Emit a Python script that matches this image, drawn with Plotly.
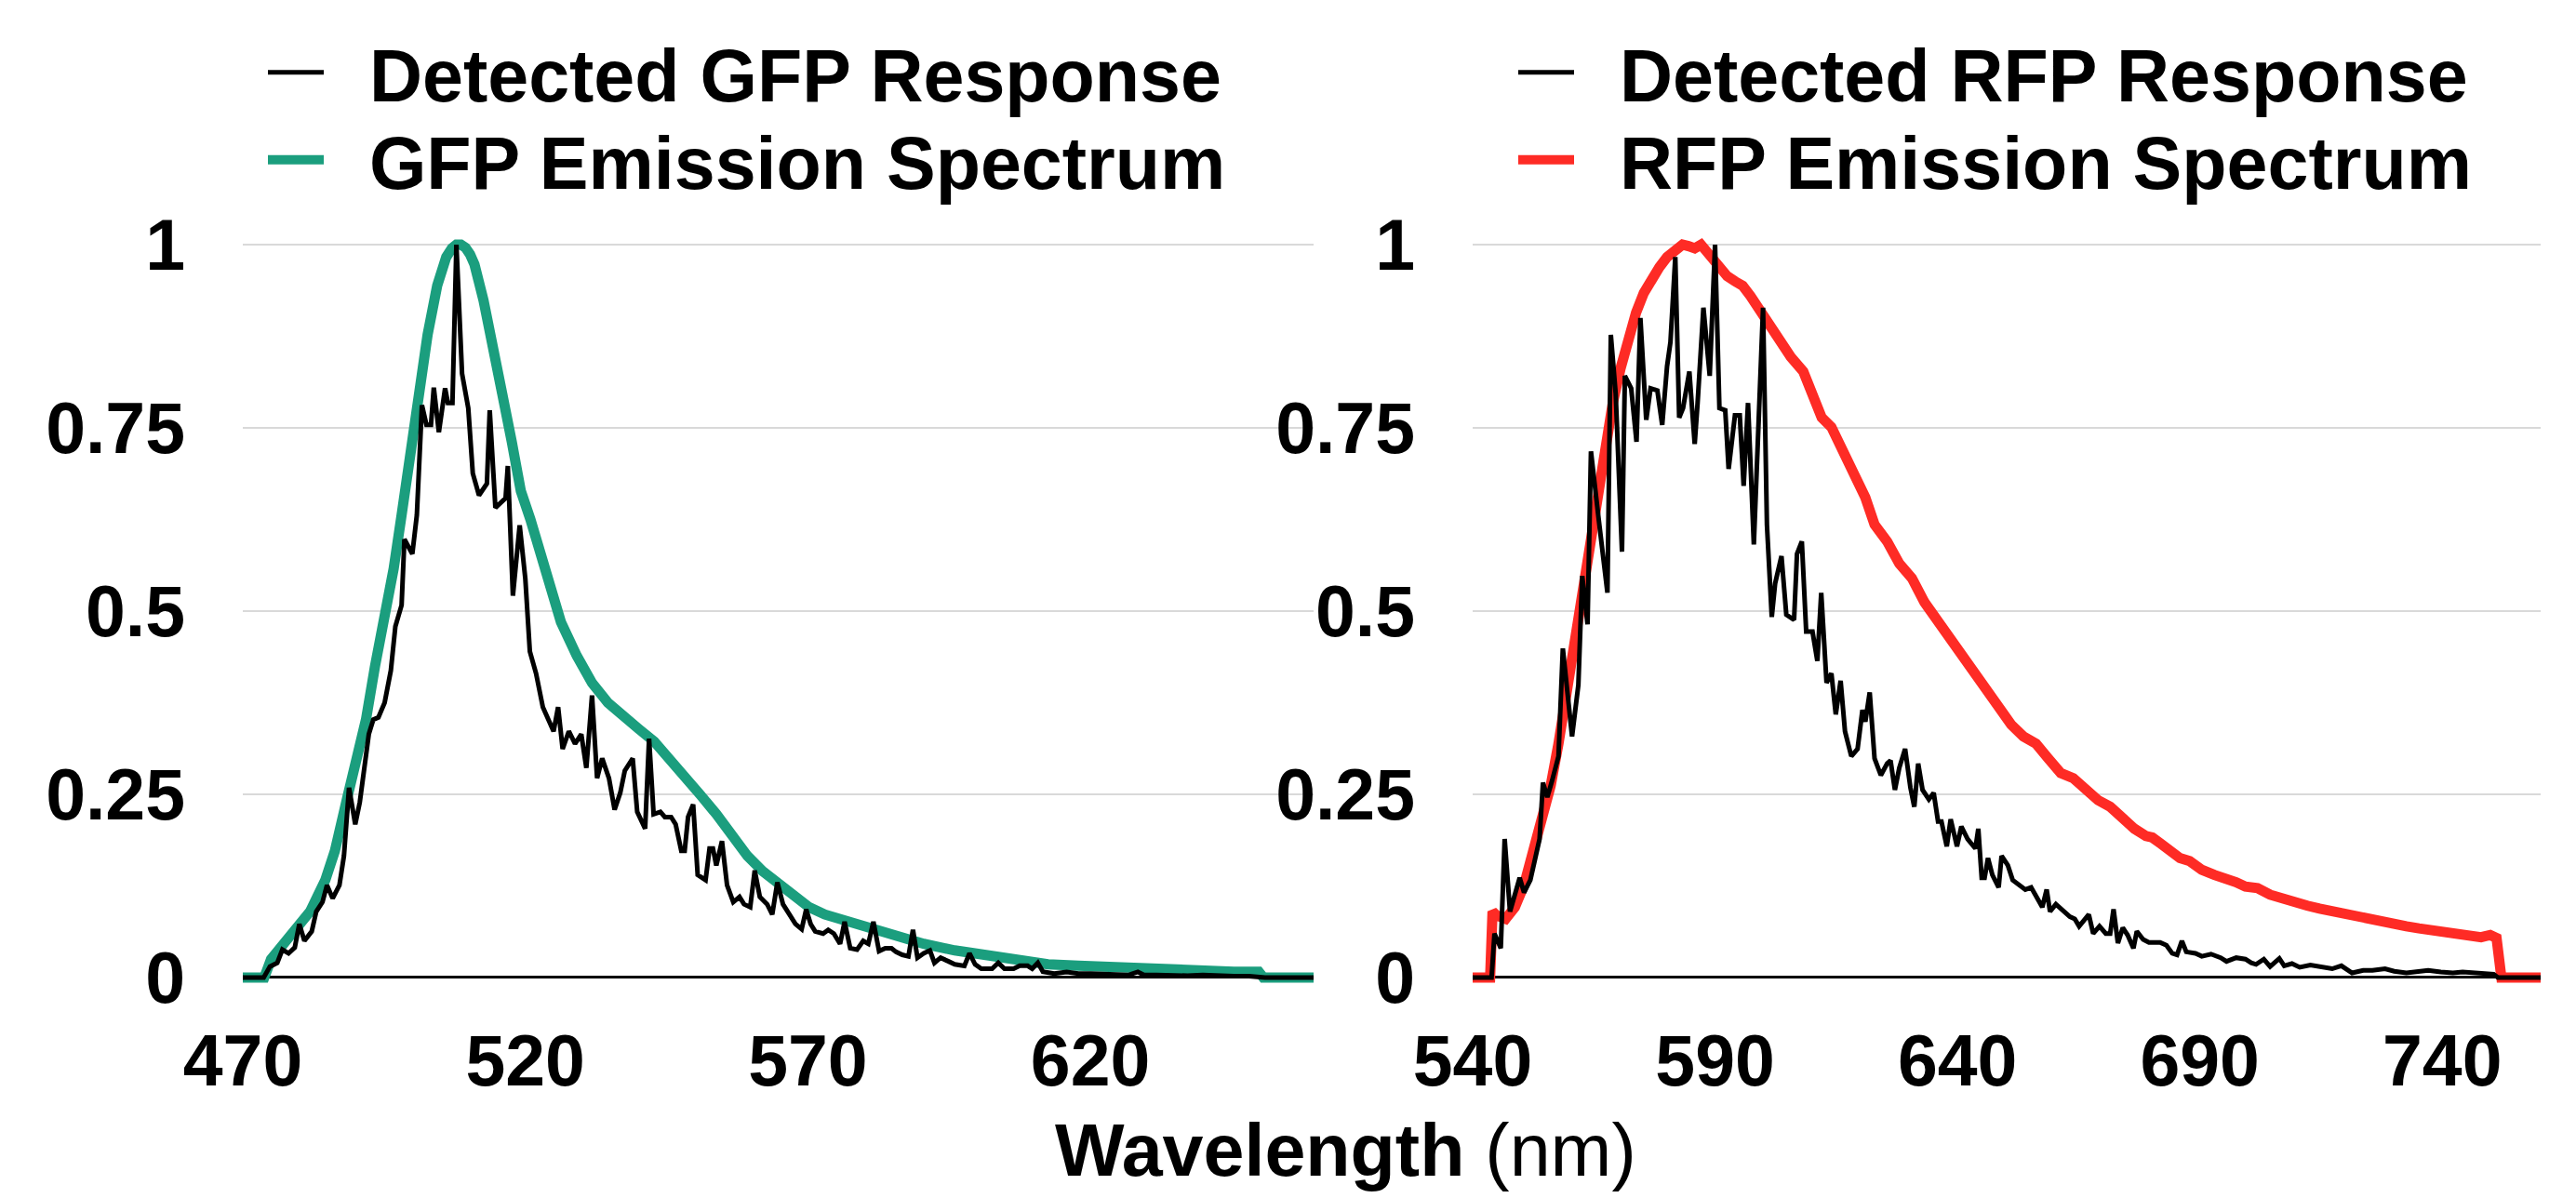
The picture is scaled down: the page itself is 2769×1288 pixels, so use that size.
import plotly.graph_objects as go

# ---------------- data ----------------
gfp_em_x = [470, 473.8, 475.0, 477.0, 479.2, 481.9, 484.6, 486.3, 488.5, 490.1, 491.8, 493.4, 495.1,
            496.7, 498.1, 499.5, 501.1, 502.7, 504.4, 506.0, 507.0, 507.8, 508.6, 509.4, 510.2, 511.0,
            512.6, 514.3, 515.9, 517.6, 519.2, 520.9, 522.5, 524.2, 526.3, 529.1, 531.8, 534.6, 537.3,
            540.1, 542.8, 545.5, 548.3, 551.0, 553.8, 556.5, 559.3, 562.0, 564.7, 567.5, 570.2, 573.0,
            575.7, 578.5, 581.2, 583.9, 586.7, 590.5, 596.0, 601.5, 606.9, 612.5, 617.9, 623.4, 628.9,
            634.4, 639.9, 645.4, 649.8, 650.6, 659.5]
gfp_em_y = [0, 0, 0.025, 0.043, 0.063, 0.090, 0.133, 0.173, 0.246, 0.296, 0.352, 0.425, 0.492,
            0.558, 0.631, 0.711, 0.797, 0.877, 0.944, 0.983, 0.995, 1.0, 1.0, 0.996, 0.987, 0.973,
            0.924, 0.864, 0.797, 0.731, 0.664, 0.625, 0.585, 0.545, 0.485, 0.439, 0.402, 0.375, 0.355,
            0.339, 0.322, 0.299, 0.274, 0.249, 0.223, 0.193, 0.166, 0.145, 0.128, 0.111, 0.096, 0.086,
            0.080, 0.072, 0.065, 0.060, 0.053, 0.046, 0.037, 0.030, 0.024, 0.018, 0.016, 0.014, 0.012,
            0.011, 0.010, 0.008, 0.008, 0, 0]

gfp_det_x = [470, 473.7, 474.8, 476.1, 477.0, 478.1, 479.2, 480.0, 480.9, 482.2, 483.0, 484.1, 484.9,
             485.9, 487.1, 487.9, 488.8, 489.9, 490.7, 491.5, 492.3, 493.1, 494.0, 495.1, 496.2, 497.0,
             498.1, 498.6, 500.0, 500.8, 501.7, 502.5, 503.3, 503.8, 504.7, 505.8, 506.3, 507.1, 507.8,
             508.8, 509.9, 510.7, 511.8, 513.2, 513.7, 514.7, 516.5, 516.9, 517.8, 519.0, 520.0, 520.8,
             521.9, 523.1, 524.2, 525.0, 525.8, 526.6, 527.7, 528.8, 529.9, 530.8, 531.8, 532.7, 533.6,
             534.8, 535.8, 536.8, 537.6, 539.0, 539.8, 541.2, 541.9, 542.7, 543.9, 544.7, 545.8, 546.6,
             547.6, 548.2, 548.8, 549.7, 550.5, 551.9, 552.6, 553.2, 553.8, 554.8, 555.7, 556.8, 557.9,
             558.7, 559.8, 560.6, 561.5, 562.8, 563.7, 564.6, 565.6, 566.7, 567.8, 568.9, 569.7, 570.5,
             571.3, 572.7, 573.6, 574.6, 575.7, 576.5, 577.5, 578.7, 579.8, 580.7, 581.6, 582.6, 583.7,
             584.8, 585.6, 586.7, 587.8, 588.6, 589.4, 590.5, 591.6, 592.4, 593.5, 594.9, 596.0, 597.7,
             598.6, 599.6, 600.7, 602.6, 603.7, 604.8, 606.4, 607.5, 608.9, 609.7, 610.7, 611.6, 613.6,
             615.8, 617.9, 620.1, 622.3, 624.5, 626.7, 628.4, 629.5, 631.7, 634.4, 637.2, 639.9, 642.6,
             645.4, 648.1, 650.3, 650.9, 659.5]
gfp_det_y = [0, 0, 0.015, 0.020, 0.038, 0.033, 0.041, 0.073, 0.050, 0.063, 0.090, 0.103, 0.126,
             0.108, 0.126, 0.166, 0.259, 0.209, 0.239, 0.292, 0.332, 0.352, 0.355, 0.375, 0.419, 0.479,
             0.508, 0.598, 0.578, 0.631, 0.781, 0.754, 0.754, 0.805, 0.744, 0.804, 0.784, 0.784, 1.0,
             0.824, 0.777, 0.688, 0.658, 0.674, 0.774, 0.641, 0.654, 0.698, 0.521, 0.617, 0.544, 0.445,
             0.415, 0.369, 0.349, 0.336, 0.369, 0.312, 0.336, 0.319, 0.332, 0.286, 0.385, 0.272, 0.299,
             0.272, 0.229, 0.252, 0.282, 0.299, 0.226, 0.203, 0.326, 0.223, 0.226, 0.219, 0.219, 0.209,
             0.173, 0.173, 0.219, 0.236, 0.140, 0.133, 0.176, 0.176, 0.153, 0.186, 0.126, 0.103, 0.110,
             0.100, 0.096, 0.146, 0.110, 0.100, 0.086, 0.130, 0.100, 0.086, 0.073, 0.066, 0.093, 0.073,
             0.063, 0.060, 0.065, 0.060, 0.046, 0.076, 0.040, 0.038, 0.050, 0.046, 0.076, 0.036, 0.040,
             0.040, 0.035, 0.031, 0.029, 0.065, 0.027, 0.033, 0.037, 0.020, 0.027, 0.022, 0.018, 0.016,
             0.033, 0.018, 0.012, 0.012, 0.020, 0.012, 0.012, 0.016, 0.016, 0.012, 0.020, 0.008, 0.0055,
             0.0076, 0.0055, 0.0055, 0.0046, 0.0046, 0.0034, 0.0076, 0.0034, 0.0034, 0.0025, 0.0025, 0.0034, 0.002,
             0.002, 0.002, 0.001, 0, 0]

rfp_em_x = [540, 543.6, 544.1, 544.9, 546.8, 548.7, 550.6, 552.2, 554.1, 556.1, 557.7, 559.3, 560.9,
            562.5, 564.1, 565.7, 567.3, 568.9, 570.5, 572.1, 573.7, 575.3, 576.9, 578.5, 580.1, 582.0,
            583.3, 584.5, 585.8, 587.1, 588.4, 589.6, 590.9, 592.5, 594.1, 595.7, 597.3, 598.9, 600.5,
            601.8, 603.7, 605.6, 608.2, 610.1, 612.0, 614.0, 615.9, 617.8, 619.7, 621.0, 622.9, 625.5,
            628.0, 630.6, 633.2, 635.7, 638.3, 640.8, 643.4, 645.9, 648.5, 651.1, 653.6, 656.2, 658.7,
            661.3, 663.9, 666.4, 669.0, 671.5, 674.1, 676.5, 678.9, 680.2, 682.1, 684.0, 685.9, 687.9,
            690.4, 693.0, 695.5, 697.5, 699.4, 701.9, 704.5, 707.0, 709.6, 712.2, 714.7, 717.3, 719.8,
            722.4, 725.0, 727.5, 730.1, 732.6, 735.2, 737.8, 740.3, 742.9, 745.4, 748.0, 749.9, 751.2,
            752.2, 760.3]
rfp_em_y = [0, 0, 0.090, 0.085, 0.080, 0.096, 0.126, 0.163, 0.209, 0.262, 0.319, 0.385, 0.452,
            0.525, 0.605, 0.671, 0.731, 0.784, 0.831, 0.871, 0.907, 0.934, 0.953, 0.969, 0.983, 0.993,
            1.0, 0.998, 0.995, 1.0, 0.990, 0.980, 0.967, 0.957, 0.950, 0.944, 0.930, 0.914, 0.900,
            0.888, 0.864, 0.847, 0.827, 0.791, 0.764, 0.751, 0.724, 0.698, 0.668, 0.655, 0.618, 0.595,
            0.565, 0.545, 0.512, 0.488, 0.465, 0.439, 0.415, 0.389, 0.369, 0.345, 0.329, 0.319, 0.299,
            0.279, 0.272, 0.256, 0.242, 0.233, 0.216, 0.203, 0.193, 0.191, 0.182, 0.174, 0.163, 0.159,
            0.147, 0.140, 0.136, 0.130, 0.124, 0.122, 0.113, 0.107, 0.104, 0.098, 0.094, 0.090, 0.088,
            0.084, 0.081, 0.076, 0.071, 0.070, 0.067, 0.065, 0.063, 0.061, 0.056, 0.055, 0.058, 0.054,
            0, 0]

rfp_det_x = [540, 543.9, 544.5, 545.8, 546.6, 547.7, 549.7, 550.6, 551.9, 552.9, 553.8, 554.5, 555.4,
             556.4, 557.7, 558.6, 560.5, 561.8, 562.6, 563.7, 564.4, 566.0, 567.8, 568.5, 569.5, 570.8,
             571.4, 572.7, 573.8, 574.6, 575.8, 576.7, 578.1, 579.1, 580.1, 580.8, 581.8, 582.6, 583.4,
             584.7, 585.8, 586.4, 587.6, 588.9, 590.0, 590.9, 592.1, 592.8, 594.1, 595.1, 595.9, 596.8,
             598.0, 599.9, 600.7, 601.7, 602.4, 603.7, 604.7, 606.3, 606.9, 607.9, 608.8, 610.1, 611.1,
             611.9, 613.0, 614.0, 614.9, 615.9, 616.8, 618.1, 619.4, 620.4, 621.0, 621.9, 622.9, 624.2,
             625.5, 626.2, 627.1, 628.0, 629.2, 630.3, 631.1, 631.9, 632.8, 634.1, 635.1, 636.0, 636.7,
             637.8, 638.6, 639.9, 640.8, 642.1, 643.7, 644.3, 645.0, 645.6, 646.3, 647.2, 648.5, 649.1,
             650.4, 651.4, 652.7, 654.0, 655.2, 656.5, 657.5, 658.4, 659.1, 660.3, 661.9, 663.2, 664.2,
             665.1, 667.1, 668.0, 669.3, 670.6, 671.5, 672.2, 673.1, 674.1, 675.1, 676.3, 677.0, 678.3,
             679.5, 681.8, 683.1, 684.3, 685.3, 686.3, 687.2, 689.1, 690.4, 692.3, 694.3, 695.5, 697.5,
             699.4, 700.6, 701.6, 703.2, 704.5, 706.4, 707.4, 709.0, 710.6, 712.8, 714.7, 717.3, 719.2,
             721.4, 723.7, 725.6, 728.2, 730.1, 732.6, 735.2, 737.1, 739.7, 742.2, 744.2, 746.7, 749.3,
             750.6, 751.5, 760.3]
rfp_det_y = [0, 0, 0.060, 0.040, 0.189, 0.090, 0.136, 0.116, 0.133, 0.166, 0.189, 0.266, 0.246,
             0.269, 0.302, 0.449, 0.329, 0.399, 0.548, 0.482, 0.718, 0.625, 0.525, 0.877, 0.797, 0.581,
             0.821, 0.804, 0.731, 0.900, 0.761, 0.804, 0.801, 0.754, 0.834, 0.867, 0.983, 0.764, 0.777,
             0.827, 0.728, 0.784, 0.914, 0.821, 1.0, 0.777, 0.774, 0.694, 0.767, 0.767, 0.671, 0.784,
             0.591, 0.914, 0.618, 0.492, 0.538, 0.575, 0.495, 0.488, 0.578, 0.595, 0.472, 0.472, 0.432,
             0.525, 0.402, 0.415, 0.359, 0.405, 0.336, 0.302, 0.312, 0.365, 0.349, 0.389, 0.299, 0.276,
             0.292, 0.296, 0.256, 0.286, 0.312, 0.259, 0.233, 0.292, 0.256, 0.243, 0.252, 0.213, 0.213,
             0.179, 0.216, 0.179, 0.206, 0.189, 0.176, 0.203, 0.136, 0.136, 0.163, 0.140, 0.123, 0.166,
             0.153, 0.133, 0.126, 0.120, 0.123, 0.106, 0.096, 0.120, 0.090, 0.100, 0.090, 0.083, 0.080,
             0.070, 0.086, 0.060, 0.070, 0.060, 0.060, 0.093, 0.047, 0.068, 0.058, 0.040, 0.063, 0.052,
             0.048, 0.048, 0.044, 0.033, 0.031, 0.050, 0.035, 0.033, 0.029, 0.032, 0.027, 0.022, 0.027,
             0.025, 0.020, 0.018, 0.025, 0.015, 0.026, 0.016, 0.019, 0.014, 0.017, 0.015, 0.012, 0.016,
             0.0063, 0.0097, 0.0097, 0.012, 0.0085, 0.0063, 0.0076, 0.0097, 0.0076, 0.0063, 0.0076, 0.0063, 0.0063,
             0.0046, 0, 0]

y_tickvals = [0, 0.25, 0.5, 0.75, 1]
y_ticktext = ["0", "0.25", "0.5", "0.75", "1"]
gfp_xticks = [470, 520, 570, 620]
rfp_xticks = [540, 590, 640, 690, 740]

names = {
    "gfp_det": "Detected GFP Response",
    "gfp_em": "GFP Emission Spectrum",
    "rfp_det": "Detected RFP Response",
    "rfp_em": "RFP Emission Spectrum",
}

GREEN = "#1b9e7e"
RED = "#fe2b25"
FONT = "Liberation Sans, Arial, Helvetica, sans-serif"
W, H = 2769, 1288
GAP = "\u00a0\u00a0"

fig = go.Figure()
fig.add_trace(go.Scatter(x=gfp_em_x, y=gfp_em_y, mode="lines", name=GAP + names["gfp_em"],
                         line=dict(color=GREEN, width=11), xaxis="x", yaxis="y", legend="legend2"))
fig.add_trace(go.Scatter(x=gfp_det_x, y=gfp_det_y, mode="lines", name=GAP + names["gfp_det"],
                         line=dict(color="black", width=5), xaxis="x", yaxis="y", legend="legend"))
fig.add_trace(go.Scatter(x=rfp_em_x, y=rfp_em_y, mode="lines", name=GAP + names["rfp_em"],
                         line=dict(color=RED, width=11), xaxis="x2", yaxis="y2", legend="legend4"))
fig.add_trace(go.Scatter(x=rfp_det_x, y=rfp_det_y, mode="lines", name=GAP + names["rfp_det"],
                         line=dict(color="black", width=5), xaxis="x2", yaxis="y2", legend="legend3"))

tickfont = dict(family=FONT, size=77, color="black", weight="bold")
ydom = [1 - 1074.6 / H, 1 - 239.4 / H]
yax = dict(domain=ydom, range=[-0.03, 1.03], tickvals=y_tickvals, ticktext=y_ticktext,
           showgrid=True, gridcolor="#d9d9d9", gridwidth=2,
           zeroline=True, zerolinecolor="black", zerolinewidth=3,
           showline=False, ticks="", tickfont=tickfont, ticklabelstandoff=61,
           automargin=False, fixedrange=True)
xax_common = dict(showgrid=False, zeroline=False, showline=False, ticks="",
                  tickfont=tickfont, ticklabelstandoff=14, automargin=False, fixedrange=True)

legfont = dict(family=FONT, size=79, color="black", weight="bold")


def leg(xpx, ypx):
    return dict(x=xpx / W, y=1 - ypx / H, xanchor="left", yanchor="top", font=legfont,
                bgcolor="rgba(0,0,0,0)", borderwidth=0, itemwidth=60, tracegroupgap=0)


fig.update_layout(
    template="none",
    width=W, height=H,
    margin=dict(l=0, r=0, t=0, b=0, autoexpand=False),
    paper_bgcolor="white", plot_bgcolor="white",
    showlegend=True,
    xaxis=dict(domain=[261 / W, 1412 / W], range=[470, 659.5], tickvals=gfp_xticks,
               anchor="y", **xax_common),
    yaxis=dict(anchor="x", **yax),
    xaxis2=dict(domain=[1583 / W, 2731 / W], range=[540, 760.3], tickvals=rfp_xticks,
                anchor="y2", **xax_common),
    yaxis2=dict(anchor="x2", **yax),
    legend=leg(283, 20),
    legend2=leg(283, 114),
    legend3=leg(1627, 20),
    legend4=leg(1627, 114),
    annotations=[dict(text="<b>Wavelength</b> (nm)", x=1446 / W, y=1 - 1236 / H,
                      xref="paper", yref="paper", xanchor="center", yanchor="middle",
                      showarrow=False, font=dict(family=FONT, size=79, color="black"))],
)

fig.write_html("out.html", config={"displayModeBar": False},
               post_script="document.body.style.margin='0';document.body.style.overflow='hidden';")
